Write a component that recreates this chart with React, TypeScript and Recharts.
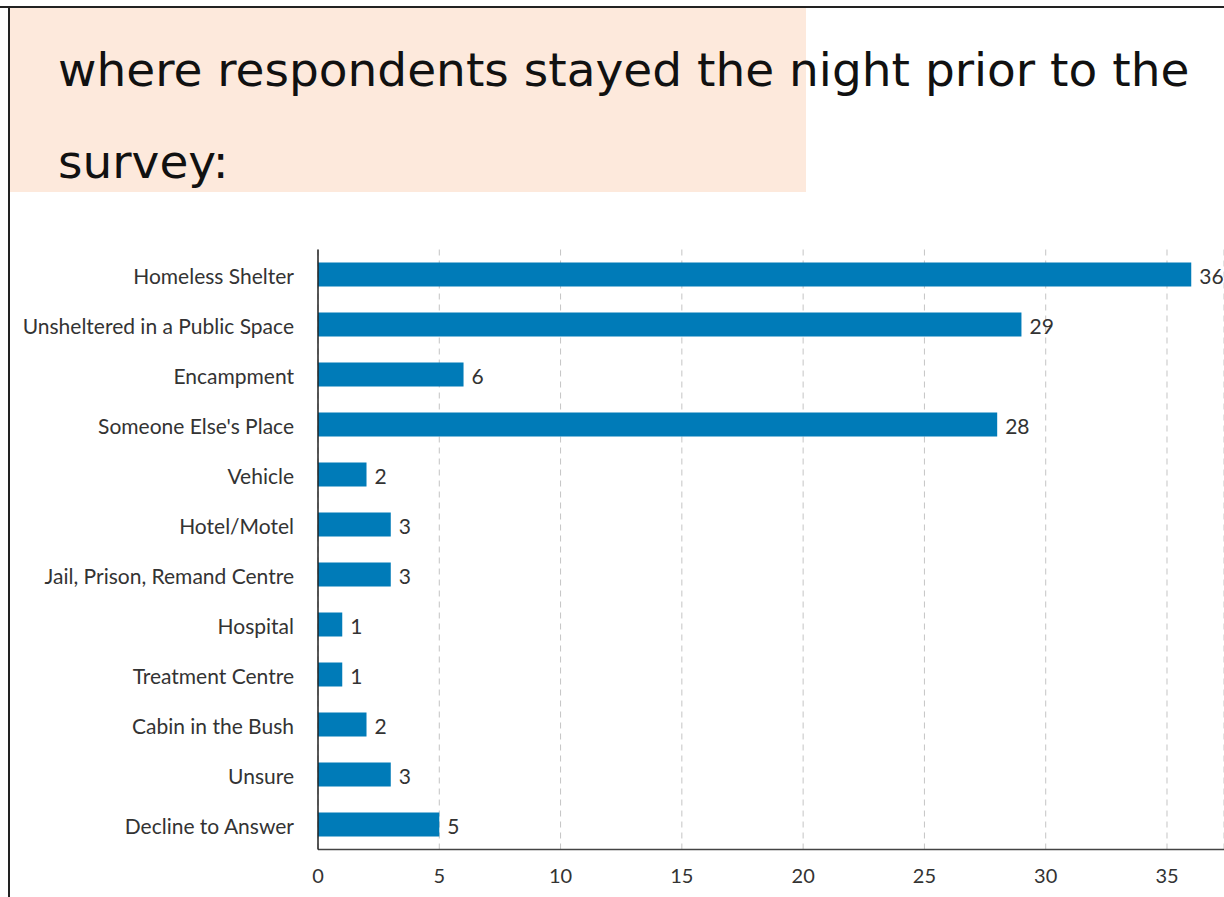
import React from 'react';
import { BarChart, Bar, XAxis, YAxis, CartesianGrid, LabelList } from 'recharts';

const categories = [
  'Homeless Shelter',
  'Unsheltered in a Public Space',
  'Encampment',
  "Someone Else's Place",
  'Vehicle',
  'Hotel/Motel',
  'Jail, Prison, Remand Centre',
  'Hospital',
  'Treatment Centre',
  'Cabin in the Bush',
  'Unsure',
  'Decline to Answer',
];
const counts = [36, 29, 6, 28, 2, 3, 3, 1, 1, 2, 3, 5];
const xTicks = [0, 5, 10, 15, 20, 25, 30, 35];

const data = categories.map((name, i) => ({ name, count: counts[i] }));

const App: React.FC = () => {
  return (
    <div style={{ position: 'absolute', left: 0, top: 0, width: 1224, height: 897, overflow: 'hidden', background: '#fff' }}>
      {/* frame lines top + left */}
      <div style={{ position: 'absolute', left: 0, top: 6, width: 1224, height: 2, background: '#222' }} />
      <div style={{ position: 'absolute', left: 8, top: 6, width: 2, height: 891, background: '#222' }} />
      {/* peach title box */}
      <div style={{ position: 'absolute', left: 10, top: 8, width: 796, height: 184, background: '#fde9dc' }} />
      <div
        style={{
          position: 'absolute',
          left: 58,
          top: 24,
          width: 1180,
          fontFamily: '"Comic Sans MS", "DejaVu Sans", sans-serif',
          fontSize: 47,
          lineHeight: '92px',
          color: '#111',
          whiteSpace: 'pre',
        }}
      >
        {'where respondents stayed the night prior to the\nsurvey:'}
      </div>

      <div style={{ position: 'absolute', left: 0, top: 0 }}>
        <BarChart
          width={1224}
          height={897}
          data={data}
          layout="vertical"
          barSize={24}
          margin={{ top: 249.5, right: 0, left: 0, bottom: 7.5 }}
        >
          <CartesianGrid horizontal={false} strokeDasharray="6 5" stroke="#c4c4c4" />
          <XAxis
            type="number"
            domain={[0, 37.35]}
            ticks={xTicks}
            allowDataOverflow
            height={40}
            tickLine={false}
            tickSize={0}
            tickMargin={19}
            axisLine={{ stroke: '#444', strokeWidth: 1.5 }}
            tick={{ fontFamily: 'Lato, sans-serif', fontSize: 20, fill: '#333' }}
          />
          <YAxis
            type="category"
            dataKey="name"
            width={318}
            tickLine={false}
            tickSize={0}
            tickMargin={24}
            interval={0}
            axisLine={{ stroke: '#222', strokeWidth: 1.5 }}
            tick={{ fontFamily: 'Lato, sans-serif', fontSize: 21, fill: '#333', dy: 2 }}
          />
          <Bar dataKey="count" fill="#007bb8" isAnimationActive={false}>
            <LabelList
              dataKey="count"
              position="right"
              offset={8}
              dy={2}
              style={{ fontFamily: 'Lato, sans-serif', fontSize: 21, fill: '#333' }}
            />
          </Bar>
        </BarChart>
      </div>
    </div>
  );
};

export default App;
